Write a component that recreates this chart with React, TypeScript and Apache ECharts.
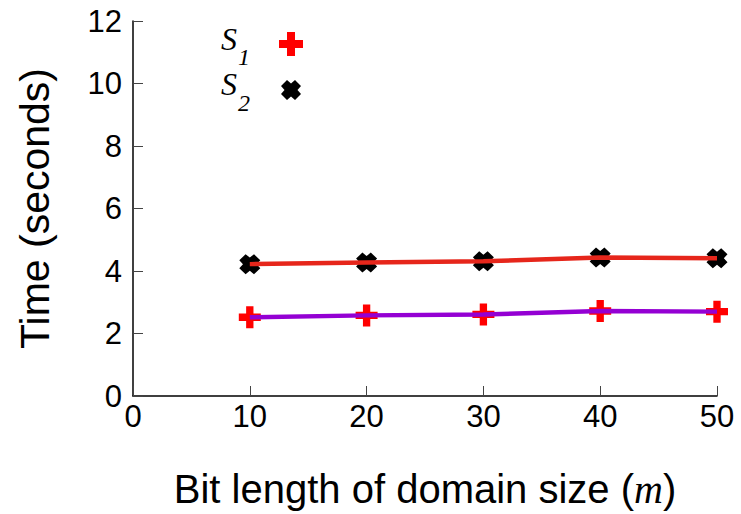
import React, { useEffect, useRef } from "react";
import * as echarts from "echarts";

const bitLengths = [10, 20, 30, 40, 50];
const s1Times = [2.52, 2.58, 2.61, 2.72, 2.70];
const s2Times = [4.22, 4.27, 4.31, 4.43, 4.41];
const yTicks = [0, 2, 4, 6, 8, 10, 12];
const xTicks = [0, 10, 20, 30, 40, 50];

const PLUS = "path://M8,0 H16 V8 H24 V16 H16 V24 H8 V16 H0 V8 H8 Z";
const XMARK = "path://M0,6 L6,0 L10,3.5 L14,0 L20,6 L16.5,10 L20,14 L14,20 L10,16.5 L6,20 L0,14 L3.5,10 Z";

export default function App() {
  const ref = useRef<HTMLDivElement>(null);
  useEffect(() => {
    const chart = echarts.init(ref.current!, null, { renderer: "svg" });
    const sans = "'Liberation Sans', Arial, Helvetica, sans-serif";
    const serif = "'Liberation Serif', 'Times New Roman', serif";
    chart.setOption({
      animation: false,
      backgroundColor: "#fff",
      grid: { left: 133, right: 24, top: 21, bottom: 118, containLabel: false },
      xAxis: {
        type: "value",
        min: xTicks[0],
        max: xTicks[xTicks.length - 1],
        interval: 10,
        name: "{n|Bit length of domain size (}{m|m}{n|)}",
        nameLocation: "middle",
        nameGap: 73,
        nameTextStyle: {
          rich: {
            n: { fontFamily: sans, fontSize: 40, color: "#000" },
            m: { fontFamily: serif, fontStyle: "italic", fontSize: 40, color: "#000" },
          },
        },
        axisLine: { show: true, lineStyle: { color: "#000", width: 1.5 } },
        axisTick: { show: true, inside: true, length: 10, lineStyle: { color: "#444", width: 1 } },
        axisLabel: { fontFamily: sans, fontSize: 31, color: "#000", margin: 5 },
        splitLine: { show: false },
      },
      yAxis: {
        type: "value",
        min: yTicks[0],
        max: yTicks[yTicks.length - 1],
        interval: 2,
        name: "Time (seconds)",
        nameLocation: "middle",
        nameGap: 78,
        nameTextStyle: { fontFamily: sans, fontSize: 41, color: "#000" },
        axisLine: { show: true, lineStyle: { color: "#000", width: 1.5 } },
        axisTick: { show: true, inside: true, length: 10, lineStyle: { color: "#444", width: 1 } },
        axisLabel: { fontFamily: sans, fontSize: 31, color: "#000", margin: 11 },
        splitLine: { show: false },
      },
      graphic: [
        { type: "text", left: 221, top: 23, style: { text: "S", font: `italic 32px ${serif}`, fill: "#000" } },
        { type: "text", left: 238, top: 45, style: { text: "1", font: `italic 24px ${serif}`, fill: "#000" } },
        { type: "text", left: 221, top: 68, style: { text: "S", font: `italic 32px ${serif}`, fill: "#000" } },
        { type: "text", left: 238, top: 91, style: { text: "2", font: `italic 24px ${serif}`, fill: "#000" } },
        {
          type: "polygon",
          shape: { points: [[287, 32], [295, 32], [295, 40], [303, 40], [303, 48], [295, 48], [295, 56], [287, 56], [287, 48], [279, 48], [279, 40], [287, 40]] },
          style: { fill: "#ff0000" },
        },
        {
          type: "polygon",
          shape: { points: [[281, 86], [287, 80], [291, 83.5], [295, 80], [301, 86], [297.5, 90], [301, 94], [295, 100], [291, 96.5], [287, 100], [281, 94], [284.5, 90]] },
          style: { fill: "#000" },
        },
      ],
      series: [
        {
          name: "S1 points",
          type: "scatter",
          data: bitLengths.map((x, i) => [x, s1Times[i]]),
          symbol: PLUS,
          symbolSize: [22, 22],
          itemStyle: { color: "#ff0000", opacity: 1 },
          z: 2,
        },
        {
          name: "S2 points",
          type: "scatter",
          data: bitLengths.map((x, i) => [x, s2Times[i]]),
          symbol: XMARK,
          symbolSize: [21, 20],
          itemStyle: { color: "#000", opacity: 1 },
          z: 2,
        },
        {
          name: "S1",
          type: "line",
          data: bitLengths.map((x, i) => [x, s1Times[i]]),
          showSymbol: false,
          symbol: "none",
          lineStyle: { color: "#9400d3", width: 4.5 },
          z: 3,
        },
        {
          name: "S2",
          type: "line",
          data: bitLengths.map((x, i) => [x, s2Times[i]]),
          showSymbol: false,
          symbol: "none",
          lineStyle: { color: "#e6261b", width: 4.5 },
          z: 3,
        },
      ],
    });
    return () => chart.dispose();
  }, []);
  return <div ref={ref} style={{ width: 741, height: 514, position: "absolute", left: 0, top: 0 }} />;
}
